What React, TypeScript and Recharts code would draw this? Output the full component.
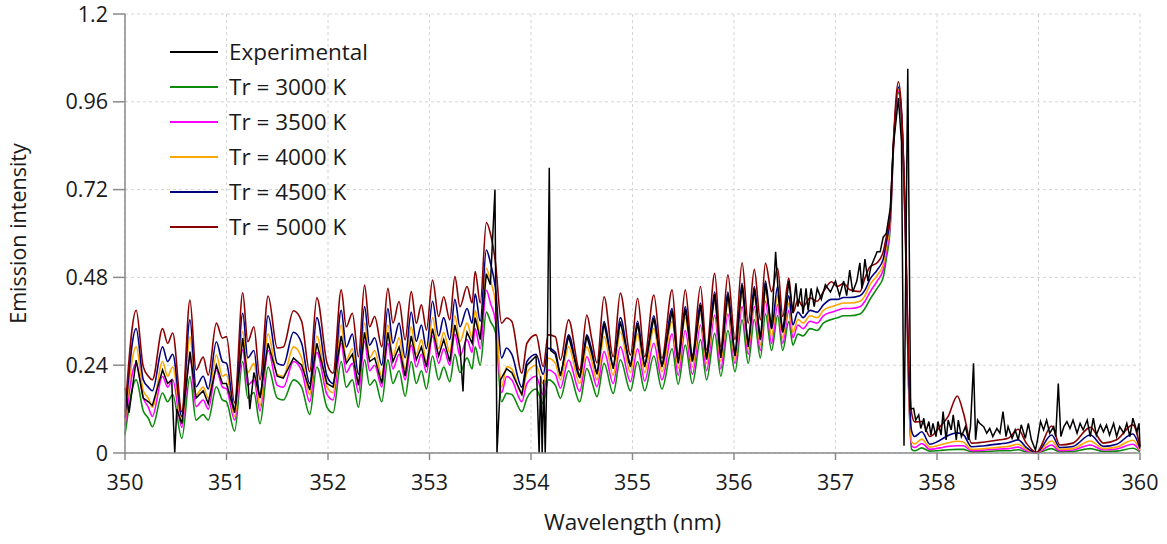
import React from 'react';
import { CartesianGrid, Line, LineChart, XAxis, YAxis } from 'recharts';

// wavelengths (nm) shared by the simulated spectra
const modelWl = [
  350.0, 350.11, 350.18, 350.23, 350.27, 350.37, 350.42, 350.47, 350.56, 350.64,
  350.7, 350.77, 350.82, 350.9, 350.96, 351.0, 351.08, 351.16, 351.21, 351.27,
  351.33, 351.41, 351.5, 351.56, 351.66, 351.74, 351.82, 351.89, 351.99, 352.05,
  352.13, 352.18, 352.24, 352.3, 352.36, 352.41, 352.46, 352.53, 352.59, 352.64,
  352.7, 352.76, 352.82, 352.87, 352.92, 352.97, 353.03, 353.09, 353.14, 353.2,
  353.25, 353.3, 353.37, 353.42, 353.45, 353.5, 353.56, 353.6, 353.65, 353.71,
  353.76, 353.81, 353.91, 353.96, 354.05, 354.12, 354.17, 354.24, 354.29, 354.37,
  354.48, 354.55, 354.6, 354.65, 354.72, 354.81, 354.88, 354.98, 355.05, 355.12,
  355.21, 355.29, 355.39, 355.45, 355.52, 355.59, 355.67, 355.73, 355.81, 355.87,
  355.94, 356.01, 356.08, 356.14, 356.2, 356.26, 356.31, 356.37, 356.43, 356.48,
  356.54, 356.58, 356.63, 356.68, 356.75, 356.82, 356.88, 356.96, 357.02, 357.08,
  357.14, 357.24, 357.29, 357.34, 357.41, 357.47, 357.5, 357.54, 357.57, 357.62,
  357.65, 357.69, 357.72, 357.75, 357.78, 357.85, 357.93, 358.03, 358.11, 358.2,
  358.26, 358.34, 358.47, 358.62, 358.7, 358.8, 358.88, 358.98, 359.13, 359.21,
  359.34, 359.51, 359.64, 359.77, 359.93, 360.0,
];

const tr5000 = [
  0.11, 0.39, 0.236, 0.21, 0.2, 0.34, 0.3, 0.328, 0.113, 0.418,
  0.227, 0.262, 0.213, 0.355, 0.314, 0.318, 0.137, 0.438, 0.304, 0.345,
  0.2, 0.429, 0.287, 0.29, 0.389, 0.36, 0.222, 0.424, 0.246, 0.218,
  0.446, 0.345, 0.382, 0.263, 0.459, 0.345, 0.373, 0.29, 0.45, 0.355,
  0.414, 0.309, 0.441, 0.355, 0.405, 0.336, 0.473, 0.373, 0.427, 0.364,
  0.482, 0.4, 0.455, 0.41, 0.496, 0.41, 0.63, 0.6, 0.52, 0.355,
  0.369, 0.36, 0.218, 0.3, 0.323, 0.236, 0.323, 0.318, 0.254, 0.364,
  0.227, 0.377, 0.309, 0.246, 0.427, 0.263, 0.437, 0.268, 0.423, 0.263,
  0.432, 0.259, 0.446, 0.268, 0.446, 0.268, 0.455, 0.282, 0.491, 0.29,
  0.487, 0.31, 0.52, 0.355, 0.502, 0.364, 0.519, 0.441, 0.505, 0.373,
  0.478, 0.383, 0.418, 0.4, 0.424, 0.415, 0.441, 0.468, 0.455, 0.464,
  0.446, 0.441, 0.478, 0.509, 0.52, 0.55, 0.59, 0.66, 0.847, 1.015,
  0.938, 0.62, 0.254, 0.109, 0.085, 0.086, 0.045, 0.072, 0.1, 0.156,
  0.11, 0.027, 0.03, 0.036, 0.04, 0.065, 0.027, 0.002, 0.074, 0.022,
  0.027, 0.07, 0.027, 0.036, 0.077, 0.017,
];

const tr4500 = [
  0.095, 0.34, 0.2, 0.18, 0.17, 0.29, 0.25, 0.27, 0.1, 0.364,
  0.181, 0.21, 0.175, 0.304, 0.25, 0.245, 0.12, 0.382, 0.26, 0.28,
  0.155, 0.375, 0.245, 0.24, 0.33, 0.3, 0.19, 0.37, 0.21, 0.19,
  0.39, 0.29, 0.325, 0.215, 0.4, 0.295, 0.315, 0.24, 0.395, 0.3,
  0.355, 0.26, 0.385, 0.305, 0.35, 0.285, 0.415, 0.32, 0.37, 0.31,
  0.42, 0.345, 0.395, 0.355, 0.435, 0.36, 0.555, 0.52, 0.45, 0.26,
  0.287, 0.27, 0.18, 0.25, 0.27, 0.215, 0.286, 0.275, 0.218, 0.323,
  0.209, 0.323, 0.28, 0.218, 0.359, 0.236, 0.37, 0.24, 0.36, 0.24,
  0.375, 0.24, 0.395, 0.25, 0.4, 0.252, 0.41, 0.26, 0.44, 0.265,
  0.44, 0.268, 0.464, 0.3, 0.455, 0.31, 0.47, 0.34, 0.455, 0.33,
  0.43, 0.35, 0.385, 0.37, 0.39, 0.385, 0.405, 0.42, 0.42, 0.425,
  0.425, 0.43, 0.445, 0.475, 0.5, 0.53, 0.575, 0.65, 0.84, 1.0,
  0.93, 0.6, 0.22, 0.06, 0.045, 0.058, 0.024, 0.035, 0.048, 0.055,
  0.05, 0.017, 0.02, 0.025, 0.028, 0.036, 0.015, 0.001, 0.049, 0.015,
  0.018, 0.049, 0.018, 0.024, 0.052, 0.012,
];

const tr4000 = [
  0.085, 0.29, 0.17, 0.15, 0.125, 0.25, 0.21, 0.235, 0.085, 0.318,
  0.159, 0.18, 0.15, 0.268, 0.21, 0.215, 0.1, 0.332, 0.22, 0.245,
  0.13, 0.325, 0.215, 0.21, 0.29, 0.26, 0.16, 0.32, 0.18, 0.165,
  0.35, 0.255, 0.285, 0.19, 0.355, 0.26, 0.28, 0.21, 0.35, 0.265,
  0.315, 0.23, 0.345, 0.27, 0.31, 0.25, 0.37, 0.285, 0.33, 0.275,
  0.375, 0.305, 0.355, 0.315, 0.39, 0.325, 0.505, 0.47, 0.41, 0.18,
  0.236, 0.23, 0.16, 0.22, 0.24, 0.19, 0.259, 0.245, 0.2, 0.29,
  0.19, 0.29, 0.25, 0.2, 0.318, 0.213, 0.33, 0.22, 0.325, 0.22,
  0.34, 0.222, 0.36, 0.232, 0.37, 0.235, 0.38, 0.245, 0.41, 0.25,
  0.41, 0.254, 0.432, 0.285, 0.425, 0.295, 0.44, 0.32, 0.43, 0.315,
  0.41, 0.33, 0.365, 0.355, 0.375, 0.37, 0.39, 0.4, 0.405, 0.41,
  0.41, 0.415, 0.43, 0.46, 0.485, 0.515, 0.56, 0.64, 0.835, 0.995,
  0.925, 0.59, 0.2, 0.03, 0.025, 0.038, 0.016, 0.022, 0.028, 0.032,
  0.03, 0.01, 0.012, 0.016, 0.018, 0.024, 0.01, 0.001, 0.033, 0.01,
  0.012, 0.033, 0.012, 0.016, 0.035, 0.008,
];

const tr3500 = [
  0.075, 0.245, 0.15, 0.125, 0.1, 0.209, 0.18, 0.2, 0.07, 0.259,
  0.127, 0.145, 0.12, 0.227, 0.18, 0.175, 0.09, 0.282, 0.185, 0.2,
  0.115, 0.28, 0.185, 0.18, 0.25, 0.225, 0.14, 0.275, 0.16, 0.145,
  0.3, 0.22, 0.245, 0.165, 0.305, 0.225, 0.24, 0.18, 0.3, 0.23,
  0.27, 0.2, 0.295, 0.235, 0.27, 0.22, 0.32, 0.245, 0.285, 0.24,
  0.325, 0.265, 0.31, 0.275, 0.34, 0.285, 0.445, 0.41, 0.36, 0.165,
  0.209, 0.2, 0.14, 0.19, 0.21, 0.16, 0.227, 0.215, 0.177, 0.254,
  0.168, 0.263, 0.225, 0.181, 0.277, 0.19, 0.29, 0.195, 0.285, 0.197,
  0.3, 0.2, 0.325, 0.212, 0.335, 0.215, 0.35, 0.225, 0.377, 0.23,
  0.38, 0.245, 0.4, 0.27, 0.4, 0.28, 0.415, 0.3, 0.405, 0.3,
  0.39, 0.315, 0.35, 0.34, 0.36, 0.355, 0.375, 0.385, 0.39, 0.395,
  0.395, 0.4, 0.415, 0.44, 0.47, 0.5, 0.545, 0.63, 0.83, 0.99,
  0.92, 0.58, 0.19, 0.02, 0.015, 0.026, 0.01, 0.014, 0.018, 0.02,
  0.02, 0.006, 0.008, 0.011, 0.012, 0.016, 0.006, 0.0, 0.022, 0.006,
  0.008, 0.022, 0.008, 0.011, 0.024, 0.005,
];

const tr3000 = [
  0.05, 0.2, 0.115, 0.095, 0.072, 0.164, 0.14, 0.16, 0.04, 0.209,
  0.09, 0.105, 0.09, 0.181, 0.145, 0.14, 0.06, 0.25, 0.15, 0.165,
  0.08, 0.235, 0.15, 0.145, 0.2, 0.18, 0.105, 0.235, 0.125, 0.11,
  0.25, 0.18, 0.2, 0.125, 0.255, 0.185, 0.2, 0.14, 0.255, 0.19,
  0.225, 0.155, 0.25, 0.19, 0.225, 0.175, 0.265, 0.2, 0.235, 0.195,
  0.27, 0.22, 0.26, 0.23, 0.29, 0.24, 0.385, 0.36, 0.33, 0.14,
  0.163, 0.16, 0.113, 0.15, 0.175, 0.135, 0.2, 0.185, 0.15, 0.225,
  0.14, 0.231, 0.195, 0.154, 0.245, 0.163, 0.255, 0.17, 0.25, 0.17,
  0.265, 0.175, 0.285, 0.188, 0.295, 0.19, 0.31, 0.2, 0.327, 0.21,
  0.335, 0.222, 0.364, 0.245, 0.365, 0.26, 0.38, 0.28, 0.375, 0.28,
  0.36, 0.295, 0.325, 0.32, 0.34, 0.335, 0.355, 0.365, 0.37, 0.375,
  0.375, 0.38, 0.395, 0.42, 0.45, 0.48, 0.53, 0.62, 0.825, 0.985,
  0.915, 0.57, 0.18, 0.01, 0.006, 0.014, 0.005, 0.007, 0.009, 0.01,
  0.01, 0.003, 0.004, 0.006, 0.006, 0.009, 0.003, 0.0, 0.012, 0.003,
  0.004, 0.012, 0.004, 0.005, 0.013, 0.003,
];

// measured spectrum, own wavelength grid
const expWl = [
  350.0, 350.04, 350.11, 350.18, 350.23, 350.27, 350.37, 350.42, 350.46, 350.49,
  350.51, 350.56, 350.64, 350.7, 350.77, 350.82, 350.9, 350.96, 351.0, 351.08,
  351.16, 351.21, 351.23, 351.27, 351.33, 351.41, 351.5, 351.56, 351.66, 351.74,
  351.82, 351.89, 351.99, 352.05, 352.13, 352.18, 352.24, 352.3, 352.36, 352.41,
  352.46, 352.53, 352.59, 352.64, 352.7, 352.76, 352.82, 352.87, 352.92, 352.97,
  353.03, 353.09, 353.14, 353.2, 353.25, 353.3, 353.33, 353.35, 353.37, 353.42,
  353.45, 353.5, 353.56, 353.6, 353.645, 353.665, 353.7, 353.76, 353.81, 353.91,
  353.96, 354.05, 354.08, 354.095, 354.11, 354.125, 354.14, 354.16, 354.18, 354.195,
  354.24, 354.29, 354.37, 354.48, 354.55, 354.6, 354.65, 354.72, 354.81, 354.88,
  354.98, 355.05, 355.12, 355.21, 355.29, 355.39, 355.45, 355.52, 355.59, 355.67,
  355.73, 355.81, 355.87, 355.94, 356.01, 356.08, 356.14, 356.2, 356.26, 356.31,
  356.37, 356.41, 356.44, 356.48, 356.54, 356.58, 356.61, 356.63, 356.66, 356.68,
  356.71, 356.73, 356.76, 356.79, 356.82, 356.86, 356.9, 356.95, 357.0, 357.04,
  357.08, 357.11, 357.14, 357.17, 357.21, 357.24, 357.26, 357.29, 357.32, 357.35,
  357.41, 357.44, 357.47, 357.5, 357.54, 357.57, 357.62, 357.65, 357.675, 357.712,
  357.74, 357.77, 357.79, 357.82, 357.84, 357.87, 357.89, 357.92, 357.94, 357.96,
  357.99, 358.01, 358.04, 358.06, 358.09, 358.11, 358.14, 358.16, 358.19, 358.21,
  358.24, 358.28, 358.31, 358.33, 358.36, 358.38, 358.4, 358.42, 358.46, 358.49,
  358.52, 358.55, 358.59, 358.62, 358.65, 358.68, 358.7, 358.74, 358.77, 358.8,
  358.83, 358.87, 358.9, 358.93, 358.97, 358.99, 359.02, 359.05, 359.08, 359.11,
  359.15, 359.17, 359.195, 359.22, 359.25, 359.28, 359.31, 359.34, 359.38, 359.41,
  359.44, 359.48, 359.51, 359.54, 359.57, 359.61, 359.64, 359.67, 359.7, 359.74,
  359.77, 359.8, 359.84, 359.87, 359.9, 359.93, 359.97, 359.99, 360.0,
];

const expInt = [
  0.178, 0.11, 0.254, 0.15, 0.14, 0.13, 0.227, 0.19, 0.2, 0.0,
  0.12, 0.08, 0.277, 0.15, 0.17, 0.135, 0.24, 0.19, 0.19, 0.11,
  0.314, 0.2, 0.12, 0.22, 0.15, 0.3, 0.21, 0.205, 0.26, 0.24,
  0.172, 0.3, 0.19, 0.18, 0.32, 0.245, 0.27, 0.185, 0.33, 0.25,
  0.26, 0.19, 0.33, 0.25, 0.29, 0.21, 0.32, 0.255, 0.29, 0.235,
  0.34, 0.265, 0.31, 0.25, 0.35, 0.29, 0.168, 0.3, 0.33, 0.3,
  0.37, 0.31, 0.49, 0.46, 0.72, 0.0, 0.2, 0.23, 0.22, 0.16,
  0.24, 0.265, 0.0, 0.21, 0.0, 0.2, 0.0, 0.26, 0.78, 0.28,
  0.27, 0.21, 0.32, 0.205, 0.32, 0.27, 0.215, 0.355, 0.23, 0.36,
  0.235, 0.355, 0.235, 0.37, 0.235, 0.39, 0.245, 0.395, 0.25, 0.405,
  0.255, 0.435, 0.26, 0.435, 0.265, 0.46, 0.29, 0.45, 0.31, 0.465,
  0.34, 0.55, 0.42, 0.33, 0.47, 0.383, 0.464, 0.4, 0.45, 0.38,
  0.45, 0.39, 0.45, 0.4, 0.45, 0.42, 0.46, 0.44, 0.47, 0.43,
  0.47, 0.43, 0.5, 0.44, 0.47, 0.52, 0.45, 0.53, 0.47, 0.51,
  0.55, 0.55, 0.59, 0.6, 0.67, 0.84, 0.97, 0.85, 0.02, 1.05,
  0.12, 0.122, 0.09, 0.104, 0.067, 0.095, 0.058, 0.086, 0.049, 0.081,
  0.045, 0.086, 0.049, 0.113, 0.036, 0.09, 0.063, 0.104, 0.036, 0.09,
  0.045, 0.072, 0.036, 0.072, 0.245, 0.036, 0.09, 0.081, 0.072, 0.054,
  0.067, 0.045, 0.067, 0.054, 0.113, 0.045, 0.072, 0.04, 0.063, 0.036,
  0.077, 0.04, 0.081, 0.036, 0.008, 0.036, 0.086, 0.063, 0.09, 0.054,
  0.072, 0.045, 0.19, 0.045, 0.072, 0.086, 0.067, 0.09, 0.054, 0.081,
  0.063, 0.09, 0.045, 0.095, 0.049, 0.077, 0.058, 0.077, 0.049, 0.081,
  0.045, 0.072, 0.054, 0.081, 0.045, 0.095, 0.058, 0.081, 0.017,
];

const xTicks = [350, 351, 352, 353, 354, 355, 356, 357, 358, 359, 360];
const yTicks = [0, 0.24, 0.48, 0.72, 0.96, 1.2];

const series = [
  { key: 't3000', name: 'Tr = 3000 K', color: '#0b8a0b' },
  { key: 't3500', name: 'Tr = 3500 K', color: '#ff00ff' },
  { key: 't4000', name: 'Tr = 4000 K', color: '#ffa500' },
  { key: 't4500', name: 'Tr = 4500 K', color: '#000080' },
  { key: 't5000', name: 'Tr = 5000 K', color: '#8b0000' },
];

const modelData = modelWl.map((w, i) => ({
  w,
  t3000: tr3000[i],
  t3500: tr3500[i],
  t4000: tr4000[i],
  t4500: tr4500[i],
  t5000: tr5000[i],
}));

const expData = expWl.map((w, i) => ({ w, v: expInt[i] }));

const legendRows = [{ name: 'Experimental', color: '#000000' }, ...series];

const textColor = '#1a1a1a';
const axisColor = '#8a8a8a';

export default function App() {
  return (
    <div
      style={{
        position: 'absolute',
        left: 0,
        top: 0,
        width: 1167,
        height: 544,
        background: '#fff',
        fontFamily: '"Open Sans", sans-serif',
      }}
    >
      <LineChart width={1167} height={544} margin={{ top: 14, right: 27, bottom: 14, left: 0 }}>
        <CartesianGrid stroke="#d4d4d4" strokeDasharray="3 3" />
        <XAxis
          type="number"
          dataKey="w"
          domain={[350, 360]}
          ticks={xTicks}
          interval={0}
          allowDuplicatedCategory={false}
          height={77}
          stroke={axisColor}
          strokeWidth={1.5}
          tickSize={7}
          tickMargin={15}
          tick={{ fontSize: 21.5, fill: textColor }}
          label={{ value: 'Wavelength (nm)', position: 'insideBottom', offset: 0, fontSize: 22.5, fill: textColor }}
        />
        <YAxis
          type="number"
          domain={[0, 1.2]}
          ticks={yTicks}
          interval={0}
          width={125}
          stroke={axisColor}
          strokeWidth={1.5}
          tickSize={12}
          tickMargin={5}
          tick={{ fontSize: 21.5, fill: textColor }}
          label={{
            value: 'Emission intensity',
            angle: -90,
            position: 'insideLeft',
            offset: 18,
            fontSize: 21.5,
            fill: textColor,
            style: { textAnchor: 'middle' },
          }}
        />
        {series.map((s) => (
          <Line
            key={s.key}
            data={modelData}
            dataKey={s.key}
            name={s.name}
            type="monotone"
            stroke={s.color}
            strokeWidth={1.6}
            dot={false}
            isAnimationActive={false}
          />
        ))}
        <Line
          data={expData}
          dataKey="v"
          name="Experimental"
          type="linear"
          stroke="#000"
          strokeWidth={1.5}
          dot={false}
          isAnimationActive={false}
        />
      </LineChart>
      <div style={{ position: 'absolute', left: 170, top: 34 }}>
        {legendRows.map((r) => (
          <div key={r.name} style={{ display: 'flex', alignItems: 'center', height: 35 }}>
            <div style={{ width: 48, height: 2, background: r.color, marginRight: 11 }} />
            <span style={{ fontSize: 22.5, color: textColor, lineHeight: '35px' }}>{r.name}</span>
          </div>
        ))}
      </div>
    </div>
  );
}
